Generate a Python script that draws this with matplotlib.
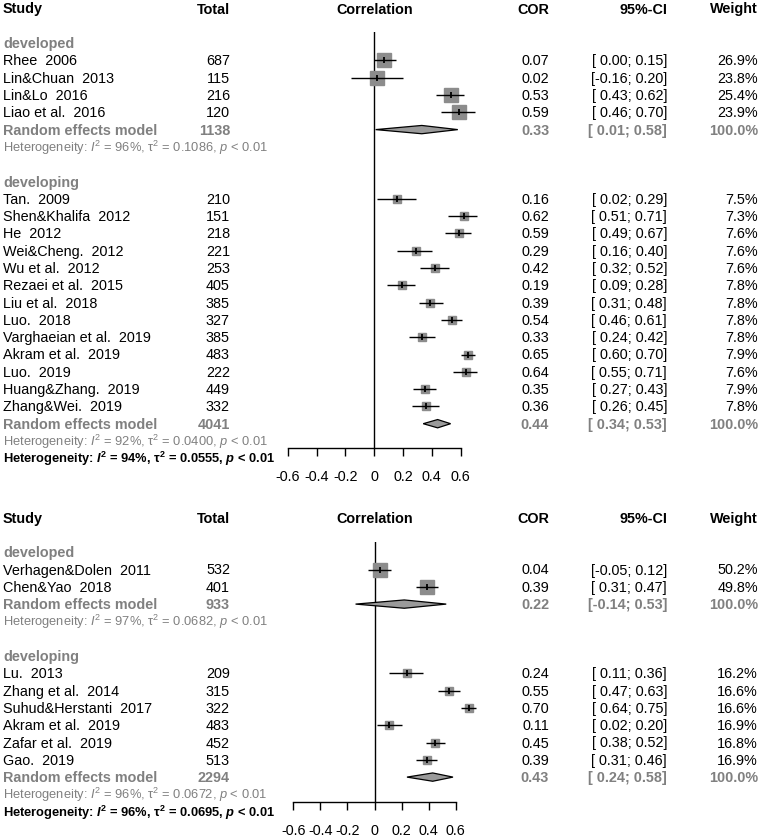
import numpy as np
import matplotlib
matplotlib.use("Agg")
import matplotlib.pyplot as plt
import matplotlib.transforms as mtransforms

plt.rcParams['font.family'] = ['Liberation Sans', 'DejaVu Sans']
plt.rcParams['mathtext.fontset'] = 'custom'
plt.rcParams['mathtext.rm'] = 'Liberation Sans'
plt.rcParams['mathtext.it'] = 'Liberation Sans:italic'
plt.rcParams['mathtext.bf'] = 'Liberation Sans:bold'
plt.rcParams['mathtext.bfit'] = 'Liberation Sans:italic:bold'

# ---------------- data: top panel ----------------
top_dev_names = ["Rhee  2006", "Lin&Chuan  2013", "Lin&Lo  2016", "Liao et al.  2016"]
top_dev_total = [687, 115, 216, 120]
top_dev_cor = [0.07, 0.02, 0.53, 0.59]
top_dev_lo = [0.00, -0.16, 0.43, 0.46]
top_dev_hi = [0.15, 0.20, 0.62, 0.70]
top_dev_w = [26.9, 23.8, 25.4, 23.9]
top_dev_pool = [1138, 0.33, 0.01, 0.58]
top_dev_het = ["96%", "0.1086"]

top_dvg_names = ["Tan.  2009", "Shen&Khalifa  2012", "He  2012", "Wei&Cheng.  2012",
                 "Wu et al.  2012", "Rezaei et al.  2015", "Liu et al.  2018", "Luo.  2018",
                 "Varghaeian et al.  2019", "Akram et al.  2019", "Luo.  2019",
                 "Huang&Zhang.  2019", "Zhang&Wei.  2019"]
top_dvg_total = [210, 151, 218, 221, 253, 405, 385, 327, 385, 483, 222, 449, 332]
top_dvg_cor = [0.16, 0.62, 0.59, 0.29, 0.42, 0.19, 0.39, 0.54, 0.33, 0.65, 0.64, 0.35, 0.36]
top_dvg_lo = [0.02, 0.51, 0.49, 0.16, 0.32, 0.09, 0.31, 0.46, 0.24, 0.60, 0.55, 0.27, 0.26]
top_dvg_hi = [0.29, 0.71, 0.67, 0.40, 0.52, 0.28, 0.48, 0.61, 0.42, 0.70, 0.71, 0.43, 0.45]
top_dvg_w = [7.5, 7.3, 7.6, 7.6, 7.6, 7.8, 7.8, 7.8, 7.8, 7.9, 7.6, 7.9, 7.8]
top_dvg_pool = [4041, 0.44, 0.34, 0.53]
top_dvg_het = ["92%", "0.0400"]
top_overall_het = ["94%", "0.0555"]

# ---------------- data: bottom panel ----------------
bot_dev_names = ["Verhagen&Dolen  2011", "Chen&Yao  2018"]
bot_dev_total = [532, 401]
bot_dev_cor = [0.04, 0.39]
bot_dev_lo = [-0.05, 0.31]
bot_dev_hi = [0.12, 0.47]
bot_dev_w = [50.2, 49.8]
bot_dev_pool = [933, 0.22, -0.14, 0.53]
bot_dev_het = ["97%", "0.0682"]

bot_dvg_names = ["Lu.  2013", "Zhang et al.  2014", "Suhud&Herstanti  2017",
                 "Akram et al.  2019", "Zafar et al.  2019", "Gao.  2019"]
bot_dvg_total = [209, 315, 322, 483, 452, 513]
bot_dvg_cor = [0.24, 0.55, 0.70, 0.11, 0.45, 0.39]
bot_dvg_lo = [0.11, 0.47, 0.64, 0.02, 0.38, 0.31]
bot_dvg_hi = [0.36, 0.63, 0.75, 0.20, 0.52, 0.46]
bot_dvg_w = [16.2, 16.6, 16.6, 16.9, 16.8, 16.9]
bot_dvg_pool = [2294, 0.43, 0.24, 0.58]
bot_dvg_het = ["96%", "0.0672"]
bot_overall_het = ["96%", "0.0695"]

group_labels = ["developed", "developing"]
headers = ["Study", "Total", "Correlation", "COR", "95%-CI", "Weight"]
xticks = [-0.6, -0.4, -0.2, 0, 0.2, 0.4, 0.6]
xticklabels = ["-0.6", "-0.4", "-0.2", "0", "0.2", "0.4", "0.6"]

# ---------------- layout ----------------
W, H = 762, 837
fig = plt.figure(figsize=(W / 100, H / 100), dpi=100)
fig.patch.set_facecolor("white")

GRAY = "#808080"
SQ = "#8c8c8c"
DIA = "#9a9a9a"
FS = 10.4
FS_HET = 9.3

X_STUDY = 3 / W
X_TOTAL = 230 / W
X_COR = 549 / W
X_CI = 667 / W
X_WT = 758 / W


def fmt_ci(lo, hi):
    return "[" + f"{lo:5.2f}" + "; " + f"{hi:4.2f}" + "]"


def het_text(het, bold=False):
    if bold:
        return ("Heterogeneity: $\\mathbfit{I}^{\\mathbf{2}}$ = " + het[0] +
                ", $\\mathbf{\\tau}^{\\mathbf{2}}$ = " + het[1] + ", $\\mathbfit{p}$ < 0.01")
    return ("Heterogeneity: $\\mathit{I}^{\\mathrm{2}}$ = " + het[0] +
            ", $\\mathrm{\\tau}^{\\mathrm{2}}$ = " + het[1] + ", $\\mathit{p}$ < 0.01")


def draw_panel(pix_row0, row_h, x_m06, x_p06, null_top_pix, axis_pix, groups, overall_het):
    # axes placement in figure pixels
    left = x_m06 / W
    width = (x_p06 - x_m06) / W
    bottom = 1 - axis_pix / H
    height = (axis_pix - null_top_pix) / H
    ax = fig.add_axes([left, bottom, width, height])
    row_top = (null_top_pix - pix_row0) / row_h
    row_bot = (axis_pix - pix_row0) / row_h
    ax.set_xlim(-0.6, 0.6)
    ax.set_ylim(row_bot, row_top)
    ax.patch.set_alpha(0)
    for s in ["top", "left", "right"]:
        ax.spines[s].set_visible(False)
    ax.spines["bottom"].set_linewidth(1.0)
    ax.set_yticks([])
    ax.set_xticks(xticks)
    ax.set_xticklabels(xticklabels, fontsize=FS)
    ax.tick_params(axis="x", length=6, width=1.0, pad=9)
    ax.axvline(0, color="black", lw=1.0, zorder=1)

    tr = mtransforms.blended_transform_factory(fig.transFigure, ax.transData)

    def txt(x, row, s, ha="left", color="black", weight="normal", size=FS):
        ax.text(x, row, s, transform=tr, ha=ha, va="center", color=color,
                fontweight=weight, fontsize=size, clip_on=False)

    # headers
    txt(X_STUDY, 0, headers[0], weight="bold")
    txt(X_TOTAL, 0, headers[1], ha="right", weight="bold")
    ax.text(0, 0, headers[2], ha="center", va="center", fontweight="bold",
            fontsize=FS, clip_on=False)
    txt(X_COR, 0, headers[3], ha="right", weight="bold")
    txt(X_CI, 0, headers[4], ha="right", weight="bold")
    txt(X_WT, 0, headers[5], ha="right", weight="bold")

    wmax = max(max(g["w"]) for g in groups)
    row = 2
    for gi, g in enumerate(groups):
        txt(X_STUDY, row, group_labels[gi], color=GRAY, weight="bold")
        row += 1
        for i in range(len(g["names"])):
            txt(X_STUDY, row, g["names"][i])
            txt(X_TOTAL, row, str(g["total"][i]), ha="right")
            txt(X_COR, row, f"{g['cor'][i]:.2f}", ha="right")
            txt(X_CI, row, fmt_ci(g["lo"][i], g["hi"][i]), ha="right")
            txt(X_WT, row, f"{g['w'][i]:.1f}%", ha="right")
            ms = 10.1 * np.sqrt(g["w"][i] / wmax)
            ax.plot(g["cor"][i], row, marker="s", ms=ms, color=SQ, mec=SQ,
                    zorder=2, clip_on=False)
            ax.hlines(row, g["lo"][i], g["hi"][i], color="black", lw=1.0,
                      zorder=3, clip_on=False)
            ax.plot(g["cor"][i], row, marker="|", ms=4, mew=1.3, color="black",
                    zorder=4, clip_on=False)
            row += 1
        pool = g["pool"]
        txt(X_STUDY, row, "Random effects model", color=GRAY, weight="bold")
        txt(X_TOTAL, row, str(pool[0]), ha="right", color=GRAY, weight="bold")
        txt(X_COR, row, f"{pool[1]:.2f}", ha="right", color=GRAY, weight="bold")
        txt(X_CI, row, fmt_ci(pool[2], pool[3]), ha="right", color=GRAY, weight="bold")
        txt(X_WT, row, "100.0%", ha="right", color=GRAY, weight="bold")
        hh = 0.24
        ax.fill([pool[2], pool[1], pool[3], pool[1]],
                [row, row - hh, row, row + hh],
                facecolor=DIA, edgecolor="black", lw=0.9, zorder=3, clip_on=False)
        row += 1
        txt(X_STUDY, row, het_text(g["het"]), color=GRAY, size=FS_HET)
        row += 2
    row -= 1
    txt(X_STUDY, row, het_text(overall_het, bold=True), weight="bold", size=FS_HET)
    return ax


top_groups = [
    dict(names=top_dev_names, total=top_dev_total, cor=top_dev_cor, lo=top_dev_lo,
         hi=top_dev_hi, w=top_dev_w, pool=top_dev_pool, het=top_dev_het),
    dict(names=top_dvg_names, total=top_dvg_total, cor=top_dvg_cor, lo=top_dvg_lo,
         hi=top_dvg_hi, w=top_dvg_w, pool=top_dvg_pool, het=top_dvg_het),
]
bot_groups = [
    dict(names=bot_dev_names, total=bot_dev_total, cor=bot_dev_cor, lo=bot_dev_lo,
         hi=bot_dev_hi, w=bot_dev_w, pool=bot_dev_pool, het=bot_dev_het),
    dict(names=bot_dvg_names, total=bot_dvg_total, cor=bot_dvg_cor, lo=bot_dvg_lo,
         hi=bot_dvg_hi, w=bot_dvg_w, pool=bot_dvg_pool, het=bot_dvg_het),
]

draw_panel(9.5, 17.3, 287.7, 460.7, 33, 449, top_groups, top_overall_het)
draw_panel(518.6, 17.3, 293.3, 455.7, 543.3, 802.7, bot_groups, bot_overall_het)

fig.savefig("out.png", dpi=100, facecolor="white")
